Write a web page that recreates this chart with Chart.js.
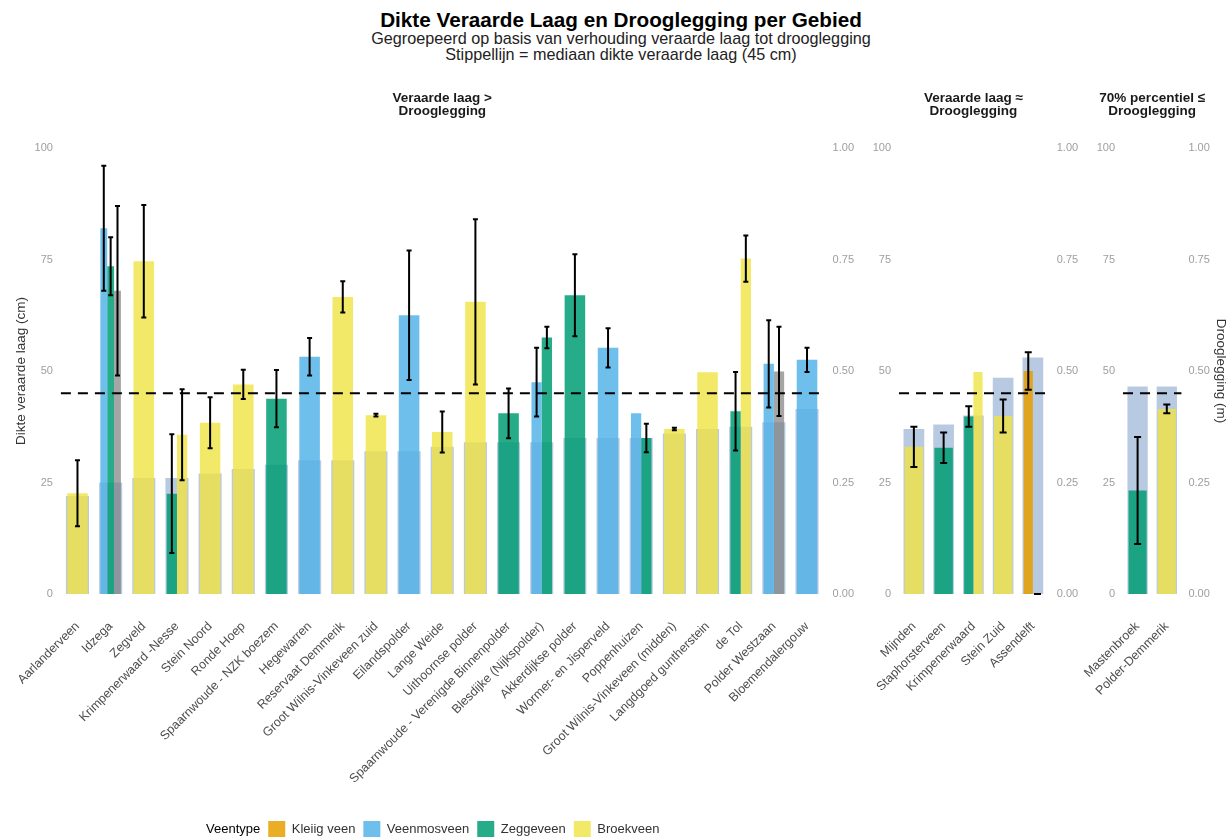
<!DOCTYPE html>
<html>
<head>
<meta charset="utf-8">
<script src="https://cdn.jsdelivr.net/npm/chart.js@4"></script>
<style>
  body { margin: 0; background: #fff; overflow: hidden; }
  #fig { position: relative; width: 1232px; height: 837px; overflow: hidden; }
  .kop { position: absolute; left: 5px; width: 1232px; text-align: center; font-family: "Liberation Sans", Arial, sans-serif; }
  #titel { top: 10px; font-weight: bold; font-size: 20.7px; line-height: 20px; color: #000; }
  #ondertitel { top: 30px; font-size: 16.2px; line-height: 16px; color: #222; }
  canvas { position: absolute; top: 80px; }
</style>
</head>
<body>
<div id="fig">
  <div id="titel" class="kop">Dikte Veraarde Laag en Drooglegging per Gebied</div>
  <div id="ondertitel" class="kop">Gegroepeerd op basis van verhouding veraarde laag tot drooglegging<br>Stippellijn = mediaan dikte veraarde laag (45 cm)</div>
  <canvas id="paneel1" width="894" height="768" style="left:-26px"></canvas>
  <canvas id="paneel2" width="260" height="757" style="left:830px"></canvas>
  <canvas id="paneel3" width="192" height="757" style="left:1040px"></canvas>
</div>
<script>
const veentypen = ['Kleiig veen', 'Veenmosveen', 'Zeggeveen', 'Broekveen'];
const kleuren = ['rgba(230,159,0,0.85)', 'rgba(86,180,233,0.85)', 'rgba(0,158,115,0.85)', 'rgba(240,228,66,0.8)'];
const kleurOnbekend = 'rgba(127,127,127,0.7)';
const mediaan = 45;

// Veraarde laag > Drooglegging
const gebieden1 = ['Aarlanderveen', 'Idzega', 'Zegveld', 'Krimpenerwaard -Nesse', 'Stein Noord', 'Ronde Hoep',
  'Spaarnwoude - NZK boezem', 'Hegewarren', 'Reservaat Demmerik', 'Groot Wilnis-Vinkeveen zuid', 'Eilandspolder',
  'Lange Weide', 'Uithoornse polder', 'Spaarnwoude - Verenigde Binnenpolder', 'Blesdijke (Nijkspolder)',
  'Akkerdijkse polder', 'Wormer- en Jisperveld', 'Poppenhuizen', 'Groot Wilnis-Vinkeveen (midden)',
  'Langdgoed guntherstein', 'de Tol', 'Polder Westzaan', 'Bloemendalergouw'];
const drooglegging1 = [0.22, 0.25, 0.26, 0.26, 0.27, 0.28, 0.29, 0.30, 0.30, 0.32, 0.32, 0.33,
  0.34, 0.34, 0.34, 0.35, 0.35, 0.35, 0.36, 0.37, 0.375, 0.385, 0.415];
const kleiig1 = [null, null, null, null, null, null, null, null, null, null, null, null,
  null, null, null, null, null, null, null, null, null, null, null];
const veenmos1 = [null, 82, null, null, null, null, null, 53.2, null, null, 62.5, null,
  null, null, 47.5, null, 55.2, 40.5, null, null, null, 51.6, 52.5];
const veenmosSd1 = [null, 14, null, null, null, null, null, 4.2, null, null, 14.5, null,
  null, null, 7.7, null, 4.4, null, null, null, null, 9.8, 2.7];
const zegge1 = [null, 73.5, null, 22.5, null, null, 43.8, null, null, null, null, null,
  null, 40.5, 57.5, 67, null, 35, null, null, 41, null, null];
const zeggeSd1 = [null, 6.5, null, 13.3, null, null, 6.4, null, null, null, null, null,
  null, 5.6, 2.4, 9.2, null, 3.2, null, null, 8.8, null, null];
const broek1 = [22.6, null, 74.6, 35.7, 38.4, 47, null, null, 66.6, 40.1, null, 36.3,
  65.5, null, null, null, null, null, 37, 49.7, 75.2, null, null];
const broekSd1 = [7.4, null, 12.6, 10.2, 5.7, 3.3, null, null, 3.5, 0.3, null, 4.6,
  18.5, null, null, null, null, null, 0.3, null, 5.2, null, null];
const onbekend1 = [null, 68, null, null, null, null, null, null, null, null, null, null,
  null, null, null, null, null, null, null, null, null, 49.9, null];
const onbekendSd1 = [null, 19, null, null, null, null, null, null, null, null, null, null,
  null, null, null, null, null, null, null, null, null, 10, null];

// Veraarde laag ≈ Drooglegging
const gebieden2 = ['Mijnden', 'Staphorsterveen', 'Krimpenerwaard', 'Stein Zuid', 'Assendelft'];
const drooglegging2 = [0.37, 0.38, 0.40, 0.485, 0.53];
const kleiig2 = [null, null, null, null, 50];
const kleiigSd2 = [null, null, null, null, 4.2];
const veenmos2 = [null, null, null, null, 0];
const veenmosSd2 = [null, null, null, null, 0];
const zegge2 = [null, 32.8, 39.8, null, null];
const zeggeSd2 = [null, 3.4, 2.3, null, null];
const broek2 = [33, null, 49.8, 39.9, null];
const broekSd2 = [4.5, null, null, 3.7, null];

// 70% percentiel ≤ Drooglegging
const gebieden3 = ['Mastenbroek', 'Polder-Demmerik'];
const drooglegging3 = [0.465, 0.465];
const zegge3 = [23.2, null];
const zeggeSd3 = [12, null];
const broek3 = [null, 41.5];
const broekSd3 = [null, 1];

Chart.defaults.font.family = '"Liberation Sans", Arial, sans-serif';
Chart.defaults.color = '#333';

const mediaanLijn = {
  id: 'mediaanLijn',
  afterDatasetsDraw(chart, args, opts) {
    const {ctx, chartArea} = chart;
    const yPix = chart.scales.y.getPixelForValue(opts.waarde);
    ctx.save();
    ctx.setLineDash([10, 7]);
    ctx.lineWidth = 2;
    ctx.strokeStyle = '#000';
    ctx.beginPath();
    ctx.moveTo(chartArea.left, yPix);
    ctx.lineTo(chartArea.right, yPix);
    ctx.stroke();
    ctx.restore();
  }
};

// gemiddelde +/- standaardafwijking per balk
const foutbalken = {
  id: 'foutbalken',
  afterDatasetsDraw(chart, args, opts) {
    const {ctx} = chart;
    const y = chart.scales.y;
    ctx.save();
    ctx.strokeStyle = '#000';
    ctx.lineWidth = 2;
    chart.data.datasets.forEach((ds, di) => {
      if (!ds.foutmarge) return;
      const meta = chart.getDatasetMeta(di);
      ds.data.forEach((v, i) => {
        const sd = ds.foutmarge[i];
        if (v === null || sd === null) return;
        const x = meta.data[i].x;
        const boven = y.getPixelForValue(v + sd);
        const onder = y.getPixelForValue(Math.max(v - sd, 0));
        const w = opts.kap;
        ctx.beginPath();
        ctx.moveTo(x, boven); ctx.lineTo(x, onder);
        ctx.moveTo(x - w, boven); ctx.lineTo(x + w, boven);
        ctx.moveTo(x - w, onder); ctx.lineTo(x + w, onder);
        ctx.stroke();
      });
    });
    ctx.restore();
  }
};

const paneelKop = {
  id: 'paneelKop',
  afterDraw(chart, args, opts) {
    const {ctx, chartArea} = chart;
    const x = (chartArea.left + chartArea.right) / 2;
    ctx.save();
    ctx.font = 'bold 13.5px "Liberation Sans", Arial, sans-serif';
    ctx.fillStyle = '#1a1a1a';
    ctx.textAlign = 'center';
    ctx.textBaseline = 'alphabetic';
    opts.regels.forEach((r, i) => ctx.fillText(r, x, 22 + i * 13.3));
    ctx.restore();
  }
};

function reeks(naam, kleur, waarden, sd) {
  return {
    label: naam, data: waarden, foutmarge: sd, backgroundColor: kleur,
    yAxisID: 'y', order: 1, categoryPercentage: 0.62, barPercentage: 1, skipNull: true
  };
}

function droogReeks(waarden) {
  return {
    label: 'Drooglegging', data: waarden, backgroundColor: 'rgba(176,196,222,0.9)',
    yAxisID: 'y1', order: 2, grouped: false, barPercentage: 0.87
  };
}

function maakPaneel(id, gebieden, datasets, cfg) {
  return new Chart(document.getElementById(id), {
    type: 'bar',
    data: { labels: gebieden, datasets: datasets },
    plugins: [mediaanLijn, foutbalken, paneelKop],
    options: {
      responsive: false,
      animation: false,
      layout: { padding: { top: 68 } },
      scales: {
        x: {
          offset: true,
          grid: { display: false, drawTicks: false },
          border: { display: false },
          ticks: { autoSkip: false, maxRotation: 45, minRotation: 45, color: '#4d4d4d', font: { size: 12.5 }, padding: 25 },
          afterFit: s => { s.height = cfg.xHoogte; }
        },
        y: {
          position: 'left', min: 0, max: 100,
          grid: { display: false, drawTicks: false },
          border: { display: false },
          ticks: { stepSize: 25, color: '#9e9e9e', font: { size: 11 }, padding: 8 },
          title: { display: !!cfg.yTitel, text: cfg.yTitel, font: { size: 13.5 }, color: '#333', padding: { top: cfg.titelPad || 0 } },
          afterFit: s => { s.width = cfg.links; }
        },
        y1: {
          position: 'right', min: 0, max: 1,
          grid: { display: false, drawTicks: false },
          border: { display: false },
          ticks: { stepSize: 0.25, color: '#9e9e9e', font: { size: 11 }, padding: cfg.tickPad, callback: v => v.toFixed(2) },
          title: { display: !!cfg.y1Titel, text: cfg.y1Titel, font: { size: 13.5 }, color: '#333', padding: { top: 3 } },
          afterFit: s => { s.width = cfg.rechts; }
        }
      },
      plugins: {
        tooltip: { enabled: false },
        mediaanLijn: { waarde: mediaan },
        foutbalken: { kap: cfg.kap },
        paneelKop: { regels: cfg.kop },
        legend: {
          display: !!cfg.legenda,
          position: 'bottom',
          labels: {
            boxWidth: 17, boxHeight: 17, padding: 8, color: '#333', font: { size: 13 },
            generateLabels(chart) {
              const items = Chart.defaults.plugins.legend.labels.generateLabels(chart)
                .filter(it => veentypen.includes(it.text));
              items.unshift({ text: 'Veentype', fillStyle: 'rgba(0,0,0,0)', strokeStyle: 'rgba(0,0,0,0)', lineWidth: 0, hidden: false });
              return items;
            }
          }
        }
      }
    }
  });
}

maakPaneel('paneel1', gebieden1, [
  reeks(veentypen[0], kleuren[0], kleiig1, kleiig1),
  reeks(veentypen[1], kleuren[1], veenmos1, veenmosSd1),
  reeks(veentypen[2], kleuren[2], zegge1, zeggeSd1),
  reeks(veentypen[3], kleuren[3], broek1, broekSd1),
  reeks('NA', kleurOnbekend, onbekend1, onbekendSd1),
  droogReeks(drooglegging1)
], { links: 86.9, rechts: 44.4, tickPad: 9, xHoogte: 219, kap: 2.5, legenda: true, titelPad: 39,
     yTitel: 'Dikte veraarde laag (cm)', kop: ['Veraarde laag >', 'Drooglegging'] });

maakPaneel('paneel2', gebieden2, [
  reeks(veentypen[0], kleuren[0], kleiig2, kleiigSd2),
  reeks(veentypen[1], kleuren[1], veenmos2, veenmosSd2),
  reeks(veentypen[2], kleuren[2], zegge2, zeggeSd2),
  reeks(veentypen[3], kleuren[3], broek2, broekSd2),
  droogReeks(drooglegging2)
], { links: 69, rechts: 42.25, tickPad: 9, xHoogte: 243, kap: 3.5, kop: ['Veraarde laag \u2248', 'Drooglegging'] });

maakPaneel('paneel3', gebieden3, [
  reeks(veentypen[2], kleuren[2], zegge3, zeggeSd3),
  reeks(veentypen[3], kleuren[3], broek3, broekSd3),
  droogReeks(drooglegging3)
], { links: 83, rechts: 50.6, tickPad: 7, xHoogte: 243, kap: 3.5, y1Titel: 'Drooglegging (m)',
     kop: ['70% percentiel \u2264', 'Drooglegging'] });
</script>
</body>
</html>
